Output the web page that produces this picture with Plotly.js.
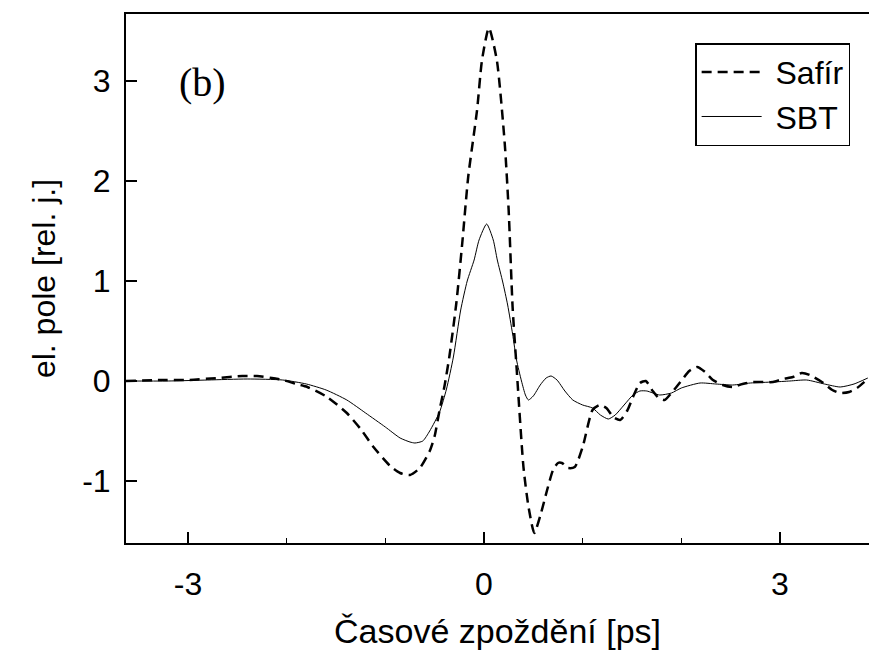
<!DOCTYPE html>
<html>
<head>
<meta charset="utf-8">
<script src="https://cdn.plot.ly/plotly-3.0.1.min.js"></script>
<style>html,body{margin:0;padding:0;background:#fff;}#chart{width:869px;height:655px;}</style>
</head>
<body>
<div id="chart"></div>
<script>
// Safír (dashed)
const safirX = [-3.63,-3.3,-3.0,-2.7,-2.45,-2.3,-2.15,-2.04,-1.9,-1.79,-1.59,-1.39,-1.25,-1.12,-0.95,-0.85,-0.75,-0.65,-0.55,-0.50,-0.45,-0.40,-0.35,-0.28,-0.22,-0.16,-0.07,-0.02,0.05,0.13,0.21,0.25,0.29,0.33,0.40,0.45,0.51,0.57,0.64,0.70,0.75,0.79,0.85,0.92,1.00,1.10,1.17,1.24,1.31,1.38,1.45,1.51,1.58,1.64,1.71,1.77,1.83,1.90,1.99,2.08,2.16,2.24,2.32,2.42,2.52,2.62,2.73,2.83,2.93,3.03,3.13,3.22,3.30,3.44,3.53,3.61,3.70,3.78,3.90];
const safirY = [0.00,0.01,0.01,0.03,0.05,0.05,0.03,0.01,-0.03,-0.06,-0.16,-0.32,-0.48,-0.66,-0.85,-0.92,-0.94,-0.87,-0.70,-0.55,-0.29,-0.05,0.25,0.78,1.38,2.04,2.71,3.21,3.53,3.21,2.38,1.71,0.74,0.14,-0.86,-1.25,-1.52,-1.35,-1.09,-0.89,-0.82,-0.82,-0.87,-0.86,-0.66,-0.29,-0.24,-0.27,-0.36,-0.39,-0.30,-0.16,-0.02,0.00,-0.10,-0.17,-0.19,-0.12,-0.01,0.10,0.14,0.09,0.01,-0.04,-0.06,-0.03,-0.01,-0.01,-0.01,0.02,0.04,0.08,0.06,-0.02,-0.09,-0.12,-0.11,-0.07,0.03];
// SBT (solid)
const sbtX = [-3.63,-3.2,-2.8,-2.4,-2.04,-1.8,-1.6,-1.39,-1.2,-1.0,-0.85,-0.75,-0.70,-0.62,-0.55,-0.45,-0.38,-0.31,-0.236,-0.17,-0.10,-0.05,0.027,0.094,0.135,0.19,0.24,0.29,0.33,0.38,0.42,0.45,0.50,0.57,0.63,0.68,0.74,0.82,0.90,1.00,1.10,1.18,1.26,1.33,1.42,1.51,1.58,1.65,1.78,1.90,2.00,2.19,2.35,2.52,2.70,2.93,3.10,3.27,3.45,3.61,3.75,3.89];
const sbtY = [0.00,0.00,0.01,0.02,0.01,-0.03,-0.09,-0.19,-0.32,-0.46,-0.57,-0.61,-0.62,-0.60,-0.50,-0.31,-0.08,0.24,0.71,1.00,1.21,1.41,1.57,1.41,1.21,0.99,0.76,0.47,0.21,0.00,-0.14,-0.19,-0.15,-0.04,0.03,0.05,0.01,-0.10,-0.19,-0.24,-0.27,-0.34,-0.38,-0.34,-0.24,-0.14,-0.10,-0.10,-0.14,-0.12,-0.07,-0.02,-0.03,-0.04,-0.02,-0.01,0.00,0.01,-0.03,-0.06,-0.03,0.03];
const xTickVals = [-3,0,3];
const yTickVals = [-1,0,1,2,3];

const F = '"Liberation Sans", Arial, sans-serif';
const traces = [
  {x: safirX, y: safirY, name: '\u00a0Safír', mode: 'lines',
   line: {color: '#000', width: 2.5, dash: '10px,6px', shape: 'spline', smoothing: 0.6}},
  {x: sbtX, y: sbtY, name: '\u00a0SBT', mode: 'lines',
   line: {color: '#000', width: 1, shape: 'spline', smoothing: 0.6}}
];
const layout = {
  width: 869, height: 655,
  margin: {l: 126, r: 0, t: 14, b: 112},
  paper_bgcolor: '#fff', plot_bgcolor: '#fff',
  showlegend: true,
  legend: {x: 0.766, y: 0.945, xanchor: 'left', yanchor: 'top',
    bordercolor: '#000', borderwidth: 1.5, bgcolor: '#fff',
    font: {family: F, size: 32, color: '#000'}, itemwidth: 60, tracegroupgap: 0},
  xaxis: {range: [-3.628, 3.902], tickvals: xTickVals, ticktext: xTickVals.map(String),
    ticks: 'inside', ticklen: 11, tickwidth: 1.5, tickcolor: '#000',
    minor: {dtick: 1, tick0: 0, ticks: 'inside', ticklen: 5, tickwidth: 1.5, tickcolor: '#000'},
    showline: true, linecolor: '#000', linewidth: 2, mirror: true,
    showgrid: false, zeroline: false, ticklabelstandoff: 12,
    tickfont: {family: F, size: 32, color: '#000'},
    title: {text: 'Časové zpoždění [ps]', font: {family: F, size: 34, color: '#000'}, standoff: 18}},
  yaxis: {range: [-1.62, 3.67], tickvals: yTickVals, ticktext: yTickVals.map(String),
    ticks: 'inside', ticklen: 11, tickwidth: 1.5, tickcolor: '#000',
    showline: true, linecolor: '#000', linewidth: 2,
    showgrid: false, zeroline: false, ticklabelstandoff: 7,
    tickfont: {family: F, size: 32, color: '#000'},
    title: {text: 'el. pole [rel. j.]', font: {family: F, size: 32, color: '#000'}, standoff: 17}},
  annotations: [{text: '(b)', xref: 'paper', yref: 'paper', x: 0.1036, y: 0.871,
    xanchor: 'center', yanchor: 'middle', showarrow: false,
    font: {family: '"Liberation Serif", "Times New Roman", serif', size: 40, color: '#000'}}]
};
Plotly.newPlot('chart', traces, layout, {displayModeBar: false, staticPlot: true});
</script>
</body>
</html>
